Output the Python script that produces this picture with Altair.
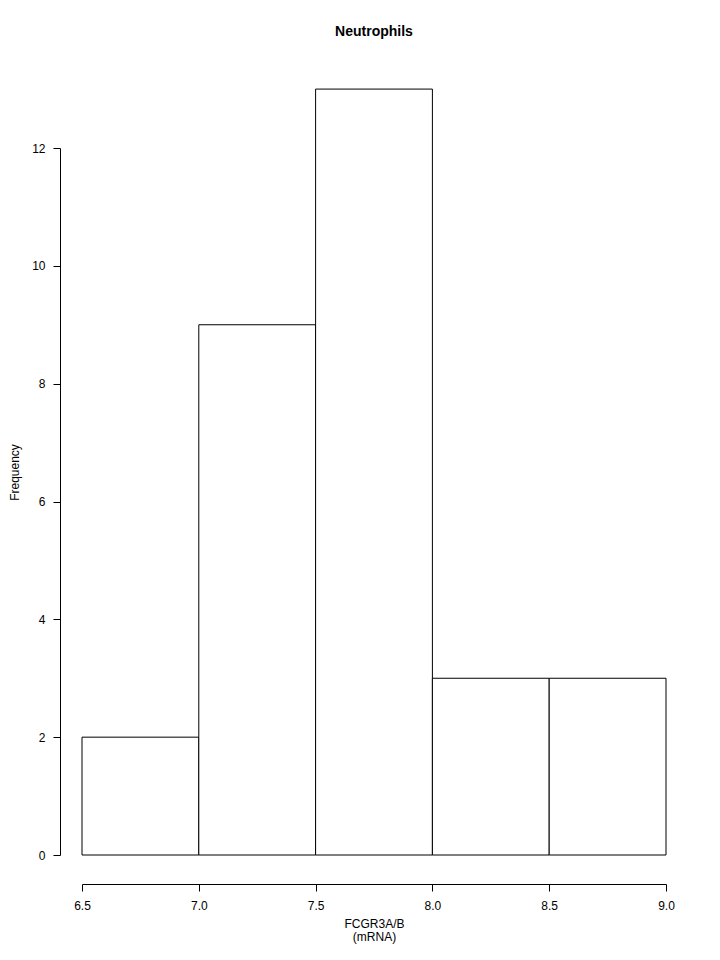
import altair as alt
import pandas as pd

bin_start = [6.5, 7.0, 7.5, 8.0, 8.5]
bin_end = [7.0, 7.5, 8.0, 8.5, 9.0]
counts = [2, 9, 13, 3, 3]
x_ticks = [6.5, 7.0, 7.5, 8.0, 8.5, 9.0]
y_ticks = [0, 2, 4, 6, 8, 10, 12]

df = pd.DataFrame({"start": bin_start, "end": bin_end, "count": counts})

FONT = "Liberation Sans"

x_scale = alt.Scale(domain=[6.5, 9.0], nice=False, zero=False)
y_scale = alt.Scale(domain=[0, 12], nice=False)

bars = alt.Chart(df).mark_rect(
    fill="white", stroke="black", strokeWidth=1, clip=False
).encode(
    x=alt.X("start:Q", scale=x_scale, axis=alt.Axis(
        values=x_ticks, format=".1f", offset=29, grid=False,
        domainColor="black", tickColor="black", tickSize=7,
        labelColor="black", labelFont=FONT, labelFontSize=12, labelPadding=9,
        title=["FCGR3A/B", "(mRNA)"], titleFont=FONT, titleFontSize=12,
        titleFontWeight="normal", titleColor="black", titleLineHeight=13,
        titlePadding=7, labelFlush=False,
    )),
    x2="end:Q",
    y=alt.Y("count:Q", scale=y_scale, axis=alt.Axis(
        values=y_ticks, offset=22, grid=False,
        domainColor="black", tickColor="black", tickSize=7,
        labelColor="black", labelFont=FONT, labelFontSize=12, labelPadding=8,
        labelAngle=0, title="Frequency", titleFont=FONT, titleFontSize=12,
        titleFontWeight="normal", titleColor="black", titleAngle=-90,
        titleX=-42, titleY=324, titleBaseline="alphabetic", titleAlign="center",
        labelFlush=False,
    )),
    y2=alt.datum(0),
)

chart = bars.properties(
    width=584,
    height=707,
    title=alt.TitleParams(
        "Neutrophils", font=FONT, fontSize=14, fontWeight="bold",
        color="black", anchor="middle", offset=50,
    ),
    autosize=alt.AutoSizeParams(type="none"),
    padding={"left": 74, "top": 140, "right": 30, "bottom": 95},
).configure_view(stroke=None)

chart.save("out.html", embed_options={"renderer": "svg", "actions": False})
